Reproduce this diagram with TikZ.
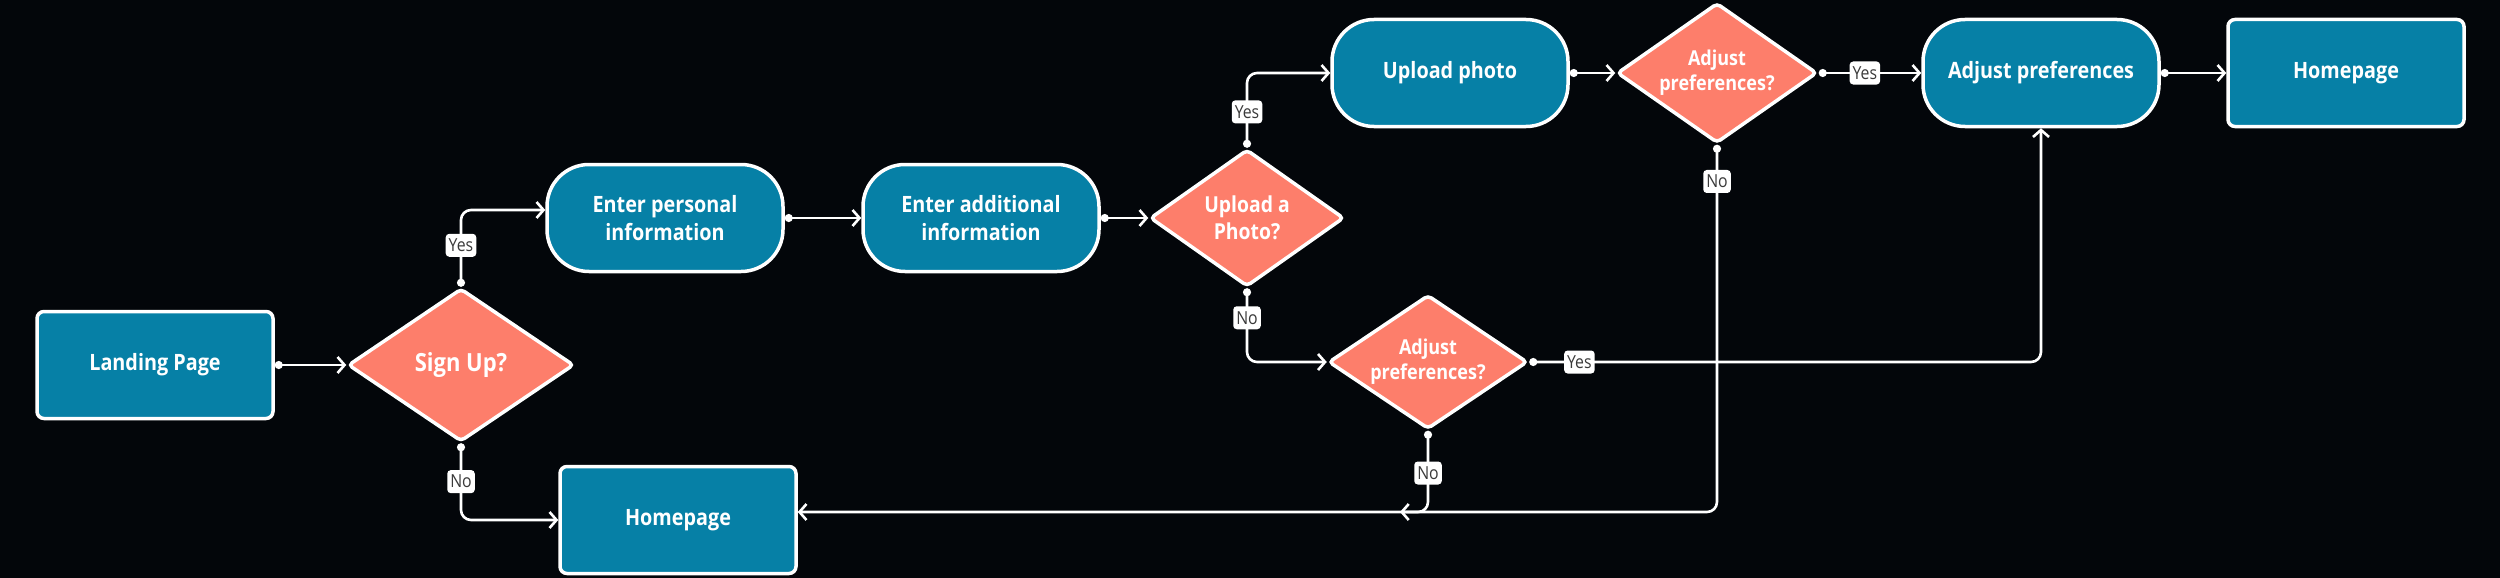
\documentclass[tikz,border=0pt]{standalone}
\usepackage{fontspec}
\setmainfont[FakeStretch=0.88]{Open Sans}
\usetikzlibrary{arrows.meta,shapes.geometric}
\definecolor{bgc}{HTML}{03060A}
\definecolor{bluec}{HTML}{0680A6}
\definecolor{salmonc}{HTML}{FD7E6B}
\definecolor{lblc}{HTML}{3A3A3A}
\tikzset{
  boxnode/.style={rectangle, rounded corners=7pt, fill=bluec, draw=white, line width=3.5pt,
    minimum width=236pt, minimum height=107pt, text=white, align=center,
    font=\bfseries\fontsize{22.5}{28}\selectfont},
  stadnode/.style={boxnode, rounded corners=42pt},
  decnode/.style={diamond, fill=salmonc, draw=white, line width=3.5pt, rounded corners=4pt,
    inner sep=-25pt, text=white, align=center, font=\bfseries\fontsize{22}{27}\selectfont},
  conn/.style={draw=white, line width=2.6pt, rounded corners=10pt,
    {Circle[length=8pt]}-{Straight Barb[length=7pt,width=16pt]}},
  lbl/.style={fill=white, rounded corners=3.5pt, text=lblc, inner sep=3pt,
    font=\fontsize{18}{20}\selectfont, minimum height=23pt}
}
\begin{document}
\begin{tikzpicture}[x=1pt,y=-1pt]
\fill[bgc] (0,0) rectangle (2500,578);
\useasboundingbox (0,0) rectangle (2500,578);

\node[boxnode] (land) at (155,365) {Landing Page};
\node[decnode, minimum width=226pt, minimum height=153pt, font=\bfseries\fontsize{25}{29}\selectfont] (sign) at (461,365) {Sign Up?};
\node[stadnode] (pers) at (665,218) {Enter personal\\information};
\node[stadnode] (addi) at (981,218) {Enter additional\\information};
\node[decnode, minimum width=194pt, minimum height=137pt] (upq) at (1247,218) {Upload a\\Photo?};
\node[stadnode] (upl) at (1450,73) {Upload photo};
\node[decnode, minimum width=200pt, minimum height=140pt, font=\bfseries\fontsize{20.5}{25}\selectfont] (adq1) at (1717,73) {Adjust\\preferences?};
\node[stadnode] (adj) at (2041,73) {Adjust preferences};
\node[boxnode] (home1) at (2346,73) {Homepage};
\node[decnode, minimum width=199pt, minimum height=134pt, font=\bfseries\fontsize{20.5}{25}\selectfont] (adq2) at (1428,362) {Adjust\\preferences?};
\node[boxnode] (home2) at (678,520) {Homepage};

\coordinate (merge) at (1400,512);

\draw[conn] (land.east) -- (sign.west);
\draw[conn] (sign.north) |- node[lbl, pos=0.27] {Yes} ([yshift=8pt]pers.west);
\draw[conn] (sign.south) |- node[lbl, pos=0.25] {No} (home2.west);
\draw[conn] (pers.east) -- (addi.west);
\draw[conn] (addi.east) -- (upq.west);
\draw[conn] (upq.north) |- node[lbl, pos=0.24] {Yes} (upl.west);
\draw[conn] (upq.south) |- node[lbl, pos=0.2] {No} (adq2.west);
\draw[conn] (upl.east) -- (adq1.west);
\draw[conn] (adq1.east) -- node[lbl, pos=0.45] {Yes} (adj.west);
\draw[conn] (adj.east) -- (home1.west);
\draw[conn] (adq1.south) |- node[lbl, pos=0.05] {No} ([yshift=8pt]home2.east);
\draw[conn] (adq2.south) |- node[lbl, pos=0.26] {No} (merge);
\draw[conn] (adq2.east) -| node[lbl, pos=0.049] {Yes} (adj.south);
\end{tikzpicture}
\end{document}
